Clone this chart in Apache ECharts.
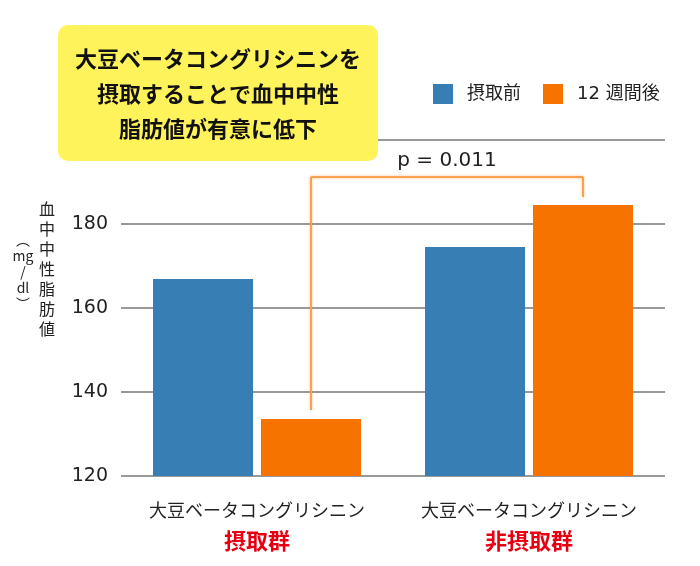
<!DOCTYPE html>
<html>
<head>
<meta charset="utf-8">
<script src="https://cdn.jsdelivr.net/npm/echarts@6/dist/echarts.min.js"></script>
<style>
  html, body { margin: 0; padding: 0; background: #fff; }
  #main { width: 700px; height: 566px; }
</style>
</head>
<body>
<div id="main"></div>
<script>
// データ
var groups = ['大豆ベータコングリシニン\n摂取群', '大豆ベータコングリシニン\n非摂取群'];
var seriesNames = ['摂取前', '12 週間後'];
var before = [166.9, 174.5];
var after = [133.6, 184.5];
var yTicks = [120, 140, 160, 180, 200];
// p値の括弧 (値軸上の高さ)
var pText = 'p = 0.011';
var bracketTop = 191.2;
var bracketEnds = [135.7, 186.4];

var numFont = 'DejaVu Sans, Noto Sans CJK JP';
var jpFont = 'Noto Sans CJK JP';

var myChart = echarts.init(document.getElementById('main'));

var option = {
  animation: false,
  backgroundColor: '#fff',
  grid: { left: 121, right: 35, top: 140, bottom: 90 },
  legend: {
    left: 428,
    top: 79,
    icon: 'rect',
    itemWidth: 20,
    itemHeight: 20,
    itemGap: 22,
    data: seriesNames,
    textStyle: { fontSize: 18, color: '#222', fontFamily: numFont, padding: [0, 0, 0, 9] }
  },
  xAxis: {
    type: 'category',
    data: groups,
    axisLine: { show: false },
    axisTick: { show: false },
    axisLabel: {
      margin: 20,
      formatter: function (v) {
        var p = v.split('\n');
        return '{a|' + p[0] + '}\n{b|' + p[1] + '}';
      },
      rich: {
        a: { fontSize: 18, color: '#222', fontFamily: jpFont, lineHeight: 28 },
        b: { fontSize: 22, color: '#e60012', fontWeight: 'bold', fontFamily: jpFont, lineHeight: 34 }
      }
    }
  },
  yAxis: {
    type: 'value',
    min: yTicks[0],
    max: yTicks[yTicks.length - 1],
    interval: 20,
    axisLine: { show: false },
    axisTick: { show: false },
    axisLabel: {
      margin: 13,
      fontSize: 19,
      color: '#222',
      fontFamily: numFont,
      showMaxLabel: false
    },
    splitLine: { lineStyle: { color: '#999', width: 2 } }
  },
  series: [
    {
      name: seriesNames[0],
      type: 'bar',
      data: before,
      barWidth: 100,
      barGap: '8%',
      itemStyle: { color: '#377eb4' }
    },
    {
      name: seriesNames[1],
      type: 'bar',
      data: after,
      barWidth: 100,
      itemStyle: { color: '#f77300' },
      markLine: {
        silent: true,
        symbol: ['none', 'none'],
        animation: false,
        label: { show: false },
        lineStyle: {
          type: 'solid',
          color: '#f9a150',
          width: 2,
          shadowBlur: 3,
          shadowColor: 'rgba(247,115,0,0.45)'
        },
        emphasis: { disabled: true },
        data: [
          [{ coord: [0, bracketEnds[0]] }, { coord: [0, bracketTop] }],
          [
            {
              coord: [0, bracketTop],
              label: {
                show: true,
                position: 'middle',
                distance: 6,
                formatter: pText,
                fontSize: 20,
                color: '#222',
                fontFamily: numFont
              }
            },
            { coord: [1, bracketTop] }
          ],
          [{ coord: [1, bracketTop] }, { coord: [1, bracketEnds[1]] }]
        ]
      }
    }
  ],
  graphic: [
    // 吹き出し
    {
      type: 'group',
      left: 58,
      top: 25,
      zlevel: 1,
      children: [
        {
          type: 'rect',
          zlevel: 1,
          z: 100,
          shape: { x: 0, y: 0, width: 320, height: 136, r: 10 },
          style: { fill: '#fff35c' }
        },
        {
          type: 'text',
          zlevel: 1,
          z: 101,
          x: 160,
          y: 69,
          style: {
            text: '大豆ベータコングリシニンを\n摂取することで血中中性\n脂肪値が有意に低下',
            fontSize: 22,
            fontWeight: 'bold',
            fontFamily: jpFont,
            lineHeight: 35,
            fill: '#111',
            align: 'center',
            verticalAlign: 'middle'
          }
        }
      ]
    },
    // 縦軸タイトル
    {
      type: 'text',
      x: 47,
      y: 269,
      style: {
        text: '血\n中\n中\n性\n脂\n肪\n値',
        fontSize: 16,
        lineHeight: 20,
        fontFamily: jpFont,
        fill: '#222',
        align: 'center',
        verticalAlign: 'middle'
      }
    },
    {
      type: 'text',
      x: 23,
      y: 272,
      style: {
        text: '︵\nmg\n/\ndl\n︶',
        fontSize: 14,
        lineHeight: 16,
        fontFamily: jpFont,
        fill: '#222',
        align: 'center',
        verticalAlign: 'middle'
      }
    }
  ]
};

myChart.setOption(option);
</script>
</body>
</html>
